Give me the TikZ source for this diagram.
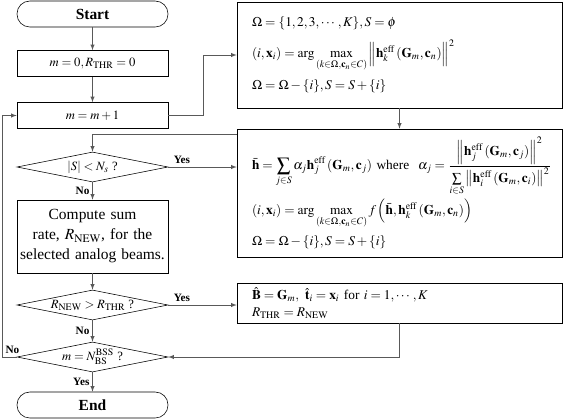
\documentclass[tikz,border=0pt]{standalone}
\usepackage{mathptmx}
\usepackage{amsmath}
\usepackage{amssymb}
\usepackage[no-math]{fontspec}
\setmainfont{Liberation Serif}
\usepackage{tikz}
\usetikzlibrary{shapes.geometric}

\begin{document}
\begin{tikzpicture}[
    term/.style={draw, rounded corners=0.32cm, minimum width=3.775cm, minimum height=0.65cm, font=\fontsize{11}{13}\selectfont\bfseries},
    proc/.style={draw, minimum width=3.775cm, minimum height=0.65cm, font=\fontsize{9}{11}\selectfont},
    decision/.style={draw, diamond, aspect=5, inner sep=0pt, minimum width=3.775cm, minimum height=0.75cm, font=\fontsize{9}{11}\selectfont},
    bigbox/.style={draw, minimum width=8.125cm, text width=7.375cm, inner xsep=0.375cm, align=left, font=\fontsize{9.5}{12}\selectfont},
    lbl/.style={font=\fontsize{8}{9.6}\selectfont\bfseries, inner sep=2pt},
    flow/.style={-latex, draw=black!65}]
    \useasboundingbox (0,0) rectangle (14.175,-10.475);

    % Left column
    \node[term] (Start) at (2.3125,-0.35) {Start};
    \node[proc] (InitM) at (2.3125,-1.5875) {$m=0, R_{\mathrm{THR}}=0$};
    \node[proc] (IncM) at (2.3125,-2.8875) {$m=m+1$};
    \node[decision] (CheckS) at (2.3125,-4.175) {$\left|S\right|<N_s$ ?};
    \node[proc, font=\fontsize{11}{14.2}\selectfont, text width=3.7cm, inner xsep=1pt, align=center, minimum height=1.825cm] (SumRate) at (2.3125,-5.9125)
        {Compute sum\\rate, $R_{\mathrm{NEW}}$, for the\\selected analog beams.};
    \node[decision] (CheckRate) at (2.3125,-7.625) {$R_{\mathrm{NEW}}>R_{\mathrm{THR}}$ ?};
    \node[decision] (CheckM) at (2.3125,-8.925) {$m=N_{\mathrm{BS}}^{\mathrm{BSS}}$ ?};
    \node[term] (End) at (2.3125,-10.125) {End};

    % Right column
    \node[bigbox, minimum height=2.65cm] (InitSel) at (9.9875,-1.375) {%
        $\Omega=\{1,2,3,\cdots,K\}, S=\phi$\\[6pt]
        $\displaystyle (i,\mathbf{x}_i)=\arg\max_{(k\in\Omega,\mathbf{c}_n\in C)}\left\|\mathbf{h}_k^{\mathrm{eff}}\left(\mathbf{G}_m,\mathbf{c}_n\right)\right\|^2$\\[5pt]
        $\Omega=\Omega-\{i\}, S=S+\{i\}$};
    \node[bigbox, minimum height=3.2cm] (SelNext) at (9.9875,-4.825) {%
        \mbox{$\displaystyle \bar{\mathbf{h}}=\sum_{j\in S}\alpha_j\mathbf{h}_j^{\mathrm{eff}}\left(\mathbf{G}_m,\mathbf{c}_j\right)$ where\ \ $\displaystyle \alpha_j=\frac{\left\|\mathbf{h}_j^{\mathrm{eff}}\left(\mathbf{G}_m,\mathbf{c}_j\right)\right\|^2}{\sum\limits_{i\in S}\left\|\mathbf{h}_i^{\mathrm{eff}}\left(\mathbf{G}_m,\mathbf{c}_i\right)\right\|^2}$}\\[2pt]
        $\displaystyle (i,\mathbf{x}_i)=\arg\max_{(k\in\Omega,\mathbf{c}_n\in C)} f\left(\bar{\mathbf{h}},\mathbf{h}_k^{\mathrm{eff}}\left(\mathbf{G}_m,\mathbf{c}_n\right)\right)$\\[4pt]
        $\Omega=\Omega-\{i\}, S=S+\{i\}$};
    \node[bigbox, minimum height=0.95cm] (Update) at (9.9875,-7.575) {%
        $\hat{\mathbf{B}}=\mathbf{G}_m,\ \hat{\mathbf{t}}_i=\mathbf{x}_i$\ for $i=1,\cdots,K$\\
        $R_{\mathrm{THR}}=R_{\mathrm{NEW}}$};

    % Arrows
    \draw[flow] (Start) -- (InitM);
    \draw[flow] (InitM) -- (IncM);
    \draw[flow] (IncM.east) -- ++(0.875,0) |- (InitSel.west);
    \draw[flow] (InitSel) -- (SelNext);
    \draw[flow] (SelNext.north west) ++(0,-0.15) -| (CheckS.north);
    \draw[flow] (CheckS.east) -- node[lbl, above, pos=0.2] {Yes} (CheckS.east -| SelNext.west);
    \draw[flow] (CheckS) -- node[lbl, left] {No} (SumRate);
    \draw[flow] (SumRate) -- (CheckRate);
    \draw[flow] (CheckRate.east) -- node[lbl, above, pos=0.2] {Yes} (CheckRate.east -| Update.west);
    \draw[flow] (CheckRate) -- node[lbl, left] {No} (CheckM);
    \draw[flow] (Update.south) |- (CheckM.east);
    \draw[flow] (CheckM) -- node[lbl, left] {Yes} (End);
    \draw[flow] (CheckM.west) node[lbl, above left, xshift=4pt] {No} -- ++(-0.35,0) |- (IncM.west);
\end{tikzpicture}
\end{document}
